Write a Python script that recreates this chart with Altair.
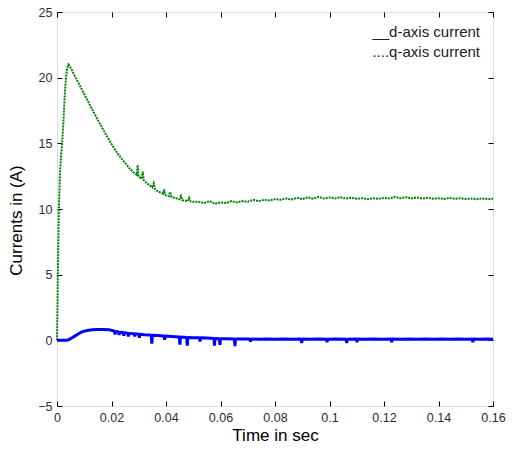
import altair as alt
import pandas as pd

# ---- data ----
q_time = [0, 0.0002, 0.0003, 0.0005, 0.0007, 0.0011, 0.0016, 0.0020, 0.0025, 0.0029,
          0.0033, 0.0037, 0.0042, 0.0050, 0.006, 0.008, 0.010, 0.012, 0.014, 0.016,
          0.018, 0.020, 0.022, 0.024, 0.026, 0.027, 0.028, 0.0293, 0.0296, 0.0299,
          0.031, 0.0315, 0.0318, 0.033, 0.034, 0.035, 0.0355, 0.036, 0.037, 0.038,
          0.039, 0.0393, 0.0396, 0.040, 0.041, 0.0415, 0.042, 0.043, 0.044, 0.045,
          0.0455, 0.046, 0.047, 0.048, 0.0485, 0.049, 0.050,
          0.052, 0.054, 0.056, 0.058, 0.060, 0.062, 0.064, 0.066, 0.068, 0.070,
          0.072, 0.074, 0.076, 0.078, 0.080, 0.082, 0.084, 0.086, 0.088, 0.090,
          0.092, 0.094, 0.096, 0.098, 0.100, 0.102, 0.104, 0.106, 0.108, 0.110,
          0.112, 0.114, 0.116, 0.118, 0.120, 0.122, 0.124, 0.126, 0.128, 0.130,
          0.132, 0.134, 0.136, 0.138, 0.140, 0.142, 0.144, 0.146, 0.148, 0.150,
          0.152, 0.154, 0.156, 0.158, 0.160]
q_current = [0, 3.0, 5.0, 7.5, 10.0, 12.8, 14.3, 15.4, 17.2, 18.9,
             20.0, 20.7, 21.0, 20.75, 20.35, 19.55, 18.75, 17.95, 17.15, 16.4,
             15.65, 14.95, 14.3, 13.75, 13.25, 13.0, 12.8, 12.6, 13.35, 12.5,
             12.3, 12.85, 12.2, 11.95, 11.8, 11.65, 11.95, 11.5, 11.35, 11.25,
             11.15, 11.5, 11.1, 11.05, 10.98, 11.3, 10.92, 10.86, 10.8, 10.74,
             11.0, 10.68, 10.64, 10.6, 10.85, 10.58, 10.55,
             10.55, 10.45, 10.6, 10.4, 10.5, 10.45, 10.6, 10.5, 10.6, 10.55,
             10.7, 10.6, 10.7, 10.65, 10.75, 10.7, 10.8, 10.72, 10.85, 10.75,
             10.9, 10.78, 10.92, 10.8, 10.88, 10.8, 10.9, 10.8, 10.85, 10.78,
             10.82, 10.75, 10.82, 10.78, 10.85, 10.8, 10.92, 10.82, 10.9, 10.8,
             10.88, 10.8, 10.85, 10.78, 10.82, 10.76, 10.84, 10.78, 10.82, 10.76,
             10.8, 10.74, 10.8, 10.76, 10.78]

d_time = [0, 0.002, 0.0036, 0.0045, 0.0054, 0.0065, 0.0075, 0.0084, 0.0095, 0.0105,
          0.0115, 0.013, 0.015, 0.017, 0.019, 0.0205,
          0.0211, 0.0213, 0.0215, 0.0226, 0.0228, 0.0230, 0.0243, 0.0245, 0.0247,
          0.0260, 0.0262, 0.0264, 0.0283, 0.0285, 0.0287, 0.0300, 0.0302, 0.0304,
          0.032, 0.034, 0.0346, 0.0348, 0.0350, 0.037, 0.0393, 0.0395, 0.0397,
          0.042, 0.0449, 0.0451, 0.0453, 0.0476, 0.0478, 0.0480,
          0.050, 0.0523, 0.0525, 0.0527, 0.055, 0.0576, 0.0578, 0.0580,
          0.0596, 0.0598, 0.0600, 0.0625, 0.0651, 0.0653, 0.0655,
          0.068, 0.0708, 0.0710, 0.0712, 0.074, 0.077, 0.080, 0.083, 0.086,
          0.0896, 0.0898, 0.0900, 0.093, 0.096, 0.0989, 0.0991, 0.0993,
          0.102, 0.1061, 0.1063, 0.1065, 0.1099, 0.1101, 0.1103,
          0.113, 0.116, 0.119, 0.1226, 0.1228, 0.1230,
          0.126, 0.129, 0.132, 0.135, 0.138, 0.141, 0.144, 0.147, 0.150,
          0.1524, 0.1526, 0.1528, 0.155, 0.158, 0.160]
d_current = [0, 0, 0, 0.07, 0.18, 0.32, 0.45, 0.56, 0.66, 0.72,
             0.77, 0.8, 0.82, 0.82, 0.8, 0.74,
             0.7, 0.45, 0.68, 0.63, 0.4, 0.62, 0.59, 0.35, 0.58,
             0.54, 0.3, 0.53, 0.5, 0.3, 0.5, 0.47, 0.2, 0.46,
             0.43, 0.4, 0.39, -0.25, 0.38, 0.36, 0.33, 0.05, 0.33,
             0.3, 0.25, -0.33, 0.25, 0.22, -0.4, 0.21,
             0.2, 0.19, -0.1, 0.19, 0.17, 0.14, -0.4, 0.14,
             0.13, -0.35, 0.13, 0.12, 0.11, -0.45, 0.11,
             0.1, 0.1, -0.1, 0.1, 0.08, 0.11, 0.08, 0.1, 0.08,
             0.1, -0.2, 0.1, 0.08, 0.11, 0.09, -0.15, 0.09,
             0.1, 0.08, -0.2, 0.08, 0.1, -0.15, 0.1,
             0.08, 0.11, 0.08, 0.1, -0.15, 0.1,
             0.08, 0.11, 0.08, 0.1, 0.08, 0.11, 0.08, 0.1, 0.08,
             0.1, -0.15, 0.1, 0.08, 0.1, 0.09]

x_ticks = [0, 0.02, 0.04, 0.06, 0.08, 0.1, 0.12, 0.14, 0.16]
y_ticks = [-5, 0, 5, 10, 15, 20, 25]
legend_labels = ["__d-axis current", "....q-axis current"]

q_df = pd.DataFrame({"t": q_time, "i": q_current})
d_df = pd.DataFrame({"t": d_time, "i": d_current})

FONT = "Liberation Sans"
LABEL_COLOR = "#2b2b3b"

xscale = alt.Scale(domain=[0, 0.16], nice=False, zero=False)
yscale = alt.Scale(domain=[-5, 25], nice=False, zero=False)

x_bottom = alt.Axis(orient="bottom", values=x_ticks, format="~g", title="Time in sec",
                    offset=-5, tickSize=5, labelPadding=5, domain=False, grid=False,
                    titlePadding=4, titleFontSize=17, titleFont=FONT, titleFontWeight="normal",
                    titleColor="black", labelFont=FONT, labelFontSize=12.5,
                    labelColor=LABEL_COLOR, tickColor="black", labelFlush=False)
y_left = alt.Axis(orient="left", values=y_ticks, title="Currents in (A)",
                  offset=-5, tickSize=5, labelPadding=5, domain=False, grid=False,
                  titlePadding=12, titleFontSize=17, titleFont=FONT, titleFontWeight="normal",
                  titleColor="black", labelFont=FONT, labelFontSize=12.5,
                  labelColor=LABEL_COLOR, tickColor="black", labelFlush=False, titleY=208)
x_top = alt.Axis(orient="top", values=x_ticks, labels=False, title=None, offset=-5,
                 tickSize=5, domain=False, grid=False, tickColor="black")
y_right = alt.Axis(orient="right", values=y_ticks, labels=False, title=None, offset=-5,
                   tickSize=5, domain=False, grid=False, tickColor="black")

q_line = alt.Chart(q_df).mark_line(color="#008000", strokeWidth=2, strokeDash=[2, 1]).encode(
    x=alt.X("t:Q", scale=xscale, axis=x_bottom),
    y=alt.Y("i:Q", scale=yscale, axis=y_left),
)
d_line = alt.Chart(d_df).mark_line(color="#0000ff", strokeWidth=3, strokeJoin="bevel").encode(
    x=alt.X("t:Q", scale=xscale, axis=None),
    y=alt.Y("i:Q", scale=yscale, axis=None),
)
frame_axes = alt.Chart(d_df).mark_line(opacity=0).encode(
    x=alt.X("t:Q", scale=xscale, axis=x_top),
    y=alt.Y("i:Q", scale=yscale, axis=y_right),
)

leg1 = alt.Chart(pd.DataFrame({"label": [legend_labels[0]]})).mark_text(
    align="right", baseline="middle", font=FONT, fontSize=15, color="#222222"
).encode(text="label:N", x=alt.value(423), y=alt.value(20))
leg2 = alt.Chart(pd.DataFrame({"label": [legend_labels[1]]})).mark_text(
    align="right", baseline="middle", font=FONT, fontSize=15, color="#222222"
).encode(text="label:N", x=alt.value(423), y=alt.value(40))

chart = alt.layer(q_line, d_line, frame_axes, leg1, leg2).resolve_axis(
    x="independent", y="independent"
).properties(
    width=436, height=394,
    autosize=alt.AutoSizeParams(type="none"),
    padding={"left": 57, "top": 12, "right": 19, "bottom": 46},
).configure_view(stroke="black", strokeWidth=1).configure(background="white")

chart.save("out.html", embed_options={"renderer": "svg", "actions": False})
